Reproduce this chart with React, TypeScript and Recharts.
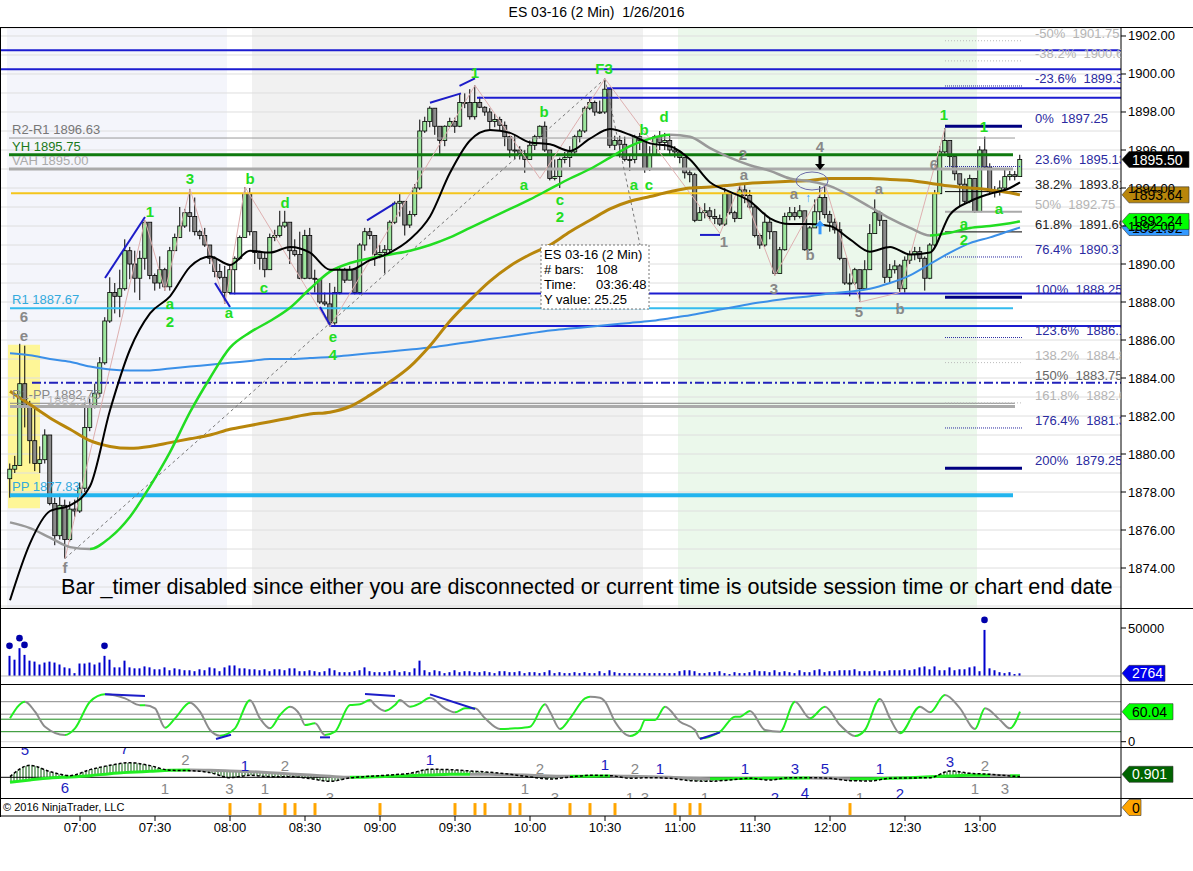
import React from "react";
import {
  ComposedChart, Bar, Line, Area, XAxis, YAxis, CartesianGrid,
  ReferenceLine, ReferenceArea, ReferenceDot,
} from "recharts";

const FONT = "'Liberation Sans', Arial, sans-serif";

// first bar is 06:32, 2-minute bars
const SESSION_START = 6 * 60 + 32;
const X_DOMAIN: [number, number] = [-1.8, 222.2];
const W = 1192;
const AXIS_W = 72;

const firstOpen = 1878.7;
const closes = [
  1879.2, 1879.4, 1883.7, 1882.5, 1880.7, 1879.5, 1879.7, 1881.0, 1877.4, 1875.7,
  1877.3, 1875.5, 1877.1, 1877.0, 1878.2, 1881.4, 1882.5, 1883.2, 1884.8, 1887.0,
  1888.5, 1888.3, 1888.7, 1890.7, 1890.0, 1889.25, 1890.3, 1892.2, 1889.4, 1889.0,
  1889.7, 1888.8, 1890.7, 1891.4, 1892.0, 1892.7, 1892.5, 1891.7, 1891.5, 1891.0,
  1890.3, 1889.6, 1889.3, 1888.5, 1889.7, 1890.3, 1891.4, 1893.7, 1891.7, 1890.6,
  1890.3, 1889.7, 1891.4, 1891.5, 1892.0, 1892.2, 1890.7, 1890.5, 1889.25, 1891.5,
  1889.25, 1889.2, 1888.0, 1887.9, 1886.9, 1888.5, 1889.7, 1889.15, 1889.7, 1888.5,
  1891.0, 1891.7, 1891.5, 1890.5, 1890.6, 1890.75, 1892.2, 1893.2, 1893.3, 1892.05,
  1892.6, 1894.0, 1897.0, 1897.5, 1898.2, 1897.25, 1896.5, 1897.25, 1897.5, 1897.25,
  1898.5, 1898.5, 1897.75, 1898.5, 1898.25, 1898.0, 1897.5, 1897.6, 1897.3, 1896.7,
  1896.0, 1896.0, 1895.8, 1895.5, 1896.25, 1896.7, 1897.25, 1896.0, 1894.5, 1894.6,
  1895.5, 1895.6, 1895.9, 1896.7, 1897.0, 1898.2, 1898.5, 1898.0, 1898.0, 1899.2,
  1896.25, 1896.5, 1896.3, 1895.5, 1895.5, 1896.7, 1896.5, 1895.0, 1895.75, 1896.7,
  1896.4, 1896.5, 1896.0, 1895.9, 1895.6, 1894.8, 1894.7, 1892.3, 1892.7, 1892.8,
  1892.5, 1892.4, 1892.1, 1893.7, 1892.7, 1892.4, 1893.9, 1893.6, 1893.0, 1891.5,
  1891.0, 1892.2, 1891.7, 1889.5, 1890.75, 1892.5, 1892.7, 1892.5, 1892.8, 1890.75,
  1891.9, 1892.75, 1893.5, 1892.6, 1892.2, 1891.8, 1890.3, 1889.0, 1889.0, 1889.7,
  1888.7, 1889.7, 1891.6, 1892.7, 1892.3, 1889.3, 1889.7, 1889.9, 1888.7, 1890.2,
  1890.5, 1890.65, 1890.3, 1889.25, 1891.0, 1893.7, 1895.9, 1896.5, 1895.65, 1894.75,
  1894.2, 1893.3, 1894.5, 1892.75, 1896.0, 1895.1, 1893.8, 1893.8, 1894.0, 1894.6,
  1894.7, 1894.6, 1895.5,
];
const highs = [
  1879.5, 1879.9, 1885.8, 1885.7, 1882.8, 1882.5, 1880.4, 1881.3, 1881.0, 1877.7,
  1877.9, 1877.6, 1877.5, 1877.6, 1878.5, 1882.7, 1882.9, 1883.7, 1885.1, 1887.2,
  1889.3, 1889.0, 1889.7, 1891.3, 1890.9, 1890.7, 1890.7, 1892.3, 1892.2, 1889.5,
  1890.4, 1889.8, 1890.9, 1891.6, 1893.0, 1892.9, 1893.95, 1893.5, 1891.8, 1891.9,
  1890.8, 1890.4, 1890.0, 1889.9, 1889.9, 1890.4, 1891.5, 1894.05, 1894.0, 1891.6,
  1890.7, 1890.6, 1891.6, 1891.8, 1892.8, 1892.8, 1892.0, 1891.3, 1891.7, 1891.8,
  1891.9, 1889.7, 1889.2, 1888.5, 1889.0, 1888.8, 1889.8, 1889.8, 1889.9, 1889.7,
  1891.1, 1891.9, 1891.9, 1891.5, 1891.0, 1891.0, 1892.3, 1893.3, 1893.7, 1893.3,
  1892.8, 1894.2, 1897.6, 1897.75, 1898.3, 1898.2, 1897.25, 1897.3, 1897.7, 1897.7,
  1899.0, 1898.98, 1899.2, 1899.4, 1898.8, 1898.3, 1898.2, 1897.9, 1897.75, 1897.5,
  1896.75, 1896.8, 1896.2, 1896.0, 1896.5, 1896.8, 1897.3, 1897.5, 1896.0, 1895.5,
  1895.6, 1895.9, 1896.2, 1896.8, 1897.1, 1898.3, 1898.7, 1898.6, 1898.6, 1899.75,
  1899.25, 1896.75, 1896.75, 1896.7, 1895.75, 1896.8, 1896.9, 1896.5, 1896.2, 1896.8,
  1897.0, 1896.9, 1896.8, 1896.2, 1896.0, 1895.6, 1895.0, 1894.8, 1893.0, 1893.2,
  1893.0, 1892.9, 1892.6, 1894.0, 1893.6, 1892.8, 1894.2, 1894.2, 1893.9, 1893.1,
  1891.6, 1892.7, 1892.4, 1891.4, 1890.9, 1892.7, 1893.0, 1893.0, 1893.1, 1892.5,
  1892.0, 1893.4, 1894.1, 1894.2, 1892.8, 1892.4, 1892.2, 1890.0, 1889.5, 1889.8,
  1889.7, 1890.2, 1892.1, 1893.4, 1892.8, 1892.1, 1890.0, 1890.2, 1890.0, 1890.4,
  1890.7, 1890.9, 1890.9, 1890.4, 1891.1, 1893.9, 1896.2, 1897.15, 1896.35, 1895.2,
  1894.7, 1894.5, 1894.7, 1894.4, 1896.2, 1896.7, 1895.3, 1894.1, 1894.4, 1894.95,
  1894.9, 1894.9, 1895.75,
];
const lows = [
  1877.7, 1879.0, 1879.4, 1881.4, 1879.5, 1879.1, 1879.0, 1879.5, 1877.3, 1875.2,
  1875.5, 1874.5, 1875.4, 1876.7, 1876.9, 1878.0, 1881.2, 1882.4, 1883.0, 1884.7,
  1886.9, 1887.4, 1887.2, 1888.6, 1889.2, 1888.5, 1888.1, 1889.7, 1889.2, 1888.6,
  1888.7, 1888.6, 1888.6, 1890.7, 1891.4, 1891.9, 1891.7, 1891.5, 1891.3, 1890.9,
  1890.0, 1889.3, 1889.2, 1887.9, 1888.4, 1888.4, 1890.2, 1891.4, 1891.5, 1890.0,
  1889.7, 1889.3, 1889.7, 1891.2, 1891.4, 1891.9, 1890.0, 1890.4, 1889.2, 1889.2,
  1889.2, 1888.5, 1887.9, 1887.8, 1886.7, 1886.8, 1888.4, 1889.0, 1889.2, 1888.4,
  1888.4, 1890.7, 1891.3, 1889.9, 1890.3, 1889.5, 1890.6, 1892.1, 1892.5, 1891.5,
  1891.9, 1892.5, 1893.9, 1896.9, 1897.2, 1896.8, 1895.7, 1896.2, 1897.2, 1896.9,
  1897.2, 1898.2, 1897.6, 1897.6, 1898.2, 1897.8, 1897.1, 1897.2, 1897.0, 1896.2,
  1895.6, 1895.5, 1895.5, 1894.8, 1895.5, 1896.0, 1896.6, 1895.9, 1894.4, 1894.4,
  1894.0, 1895.3, 1895.1, 1895.8, 1896.4, 1896.9, 1898.1, 1897.8, 1897.9, 1897.9,
  1896.1, 1896.0, 1895.6, 1895.4, 1894.9, 1895.3, 1896.0, 1894.8, 1894.9, 1895.7,
  1896.0, 1896.0, 1895.7, 1895.6, 1895.3, 1894.5, 1894.3, 1892.2, 1892.3, 1892.4,
  1892.3, 1892.1, 1892.0, 1892.0, 1892.6, 1892.2, 1892.4, 1893.2, 1892.9, 1891.4,
  1890.8, 1890.9, 1891.3, 1889.4, 1889.5, 1890.7, 1892.3, 1892.3, 1892.4, 1890.7,
  1890.7, 1892.1, 1892.3, 1892.4, 1891.7, 1891.6, 1890.2, 1888.9, 1888.3, 1888.9,
  1888.0, 1888.7, 1889.7, 1891.6, 1892.0, 1889.0, 1889.0, 1889.5, 1888.5, 1888.5,
  1890.0, 1890.2, 1890.1, 1888.6, 1889.2, 1890.9, 1893.7, 1895.8, 1895.1, 1894.4,
  1893.0, 1893.2, 1893.2, 1892.7, 1892.8, 1895.0, 1893.7, 1893.5, 1893.6, 1893.9,
  1894.4, 1894.4, 1894.6,
];
const volumes = [
  21000, 17000, 29000, 22000, 16000, 15000, 12000, 14000, 15000, 14000,
  12000, 9000, 8000, 3000, 13000, 13000, 14000, 12000, 14000, 21000,
  17000, 9000, 9000, 16000, 9000, 8000, 8000, 10000, 9000, 7000,
  7000, 9000, 6000, 8000, 7000, 6000, 6000, 5000, 7000, 6000,
  9000, 8000, 5000, 9000, 11000, 11000, 8000, 8000, 7000, 7000,
  6000, 7000, 5000, 7000, 7000, 6000, 8000, 8000, 5000, 5000,
  6000, 5000, 4000, 5000, 8000, 6000, 4000, 4000, 4000, 5000,
  6000, 9000, 5000, 4000, 4000, 4000, 5000, 6000, 4000, 5000,
  4000, 8000, 16000, 6000, 4000, 6000, 5000, 3000, 4000, 6000,
  4000, 5000, 5000, 4000, 4000, 5000, 4000, 3000, 5000, 5000,
  4000, 4000, 5000, 3000, 4000, 4000, 3000, 4000, 6000, 3000,
  4000, 3000, 3000, 4000, 3000, 4000, 3000, 3000, 5000, 3000,
  6000, 4000, 3000, 3000, 3000, 3000, 3000, 3000, 3000, 3000,
  3000, 3000, 3000, 3000, 5000, 6000, 6000, 5000, 3000, 3000,
  4000, 4000, 5000, 3000, 2000, 4000, 3000, 3000, 4000, 6000,
  5000, 5000, 4000, 6000, 4000, 5000, 4000, 3000, 6000, 4000,
  4000, 6000, 7000, 4000, 5000, 5000, 6000, 6000, 6000, 7000,
  5000, 5000, 5000, 6000, 5000, 5000, 6000, 6000, 6000, 7000,
  6000, 7000, 9000, 10000, 7000, 10000, 6000, 6000, 9000, 6000,
  7000, 7000, 9000, 10000, 5000, 48000, 8000, 6000, 4000, 3000,
  4000, 2000, 2764,
];
const volumeDots = [0, 2, 3, 19, 195];

// moving averages sampled every 4 bars (last sample = last bar)
const fastMA = [
  1872.3, 1875.3, 1877.0, 1877.3, 1878.3, 1882.3, 1885.5, 1887.4, 1888.3, 1889.85,
  1890.4, 1889.95, 1890.7, 1890.6, 1890.9, 1890.6, 1889.7, 1889.7, 1890.2, 1890.6,
  1891.3, 1892.5, 1894.8, 1896.5, 1897.05, 1896.9, 1896.4, 1896.3, 1895.95, 1896.6,
  1897.1, 1896.8, 1896.35, 1896.2, 1895.5, 1894.3, 1893.8, 1893.3, 1892.4, 1892.1,
  1892.1, 1892.0, 1891.3, 1890.65, 1890.9, 1890.5, 1890.6, 1892.6, 1893.3, 1893.7,
  1894.0, 1894.3,
];
const midMA = [
  1876.4, 1876.1, 1875.6, 1875.1, 1875.0, 1875.6, 1876.7, 1878.3, 1880.1, 1882.2,
  1884.0, 1885.6, 1886.4, 1887.0, 1887.7, 1888.7, 1889.6, 1890.05, 1890.3, 1890.5,
  1890.7, 1891.0, 1891.4, 1891.9, 1892.4, 1892.9, 1893.4, 1893.95, 1894.5, 1895.0,
  1895.6, 1896.2, 1896.6, 1896.8, 1896.7, 1896.1, 1895.6, 1895.2, 1894.9, 1894.5,
  1894.35, 1894.1, 1893.6, 1893.0, 1892.4, 1891.9, 1891.5, 1891.65, 1891.9, 1892.0,
  1892.15, 1892.24,
];
const slowMA = [
  1883.3, 1882.6, 1881.9, 1881.3, 1880.7, 1880.4, 1880.3, 1880.4, 1880.6, 1880.8,
  1881.0, 1881.3, 1881.5, 1881.7, 1881.9, 1882.1, 1882.2, 1882.5, 1883.1, 1883.8,
  1884.6, 1885.7, 1887.0, 1888.1, 1889.1, 1889.9, 1890.5, 1891.0, 1891.7, 1892.3,
  1892.9, 1893.3, 1893.55, 1893.8, 1894.0, 1894.05, 1894.15, 1894.25, 1894.3, 1894.35,
  1894.4, 1894.5, 1894.5, 1894.5, 1894.45, 1894.4, 1894.25, 1894.1, 1894.0, 1893.9,
  1893.75, 1893.64,
];
const blueMA = [
  1885.3, 1885.2, 1885.0, 1884.85, 1884.6, 1884.45, 1884.4, 1884.4, 1884.5, 1884.6,
  1884.7, 1884.8, 1884.9, 1885.0, 1885.0, 1885.05, 1885.1, 1885.2, 1885.3, 1885.4,
  1885.5, 1885.6, 1885.75, 1885.9, 1886.05, 1886.2, 1886.35, 1886.5, 1886.6, 1886.7,
  1886.8, 1886.9, 1887.0, 1887.15, 1887.3, 1887.5, 1887.7, 1887.9, 1888.05, 1888.2,
  1888.3, 1888.45, 1888.55, 1888.7, 1889.0, 1889.4, 1890.0, 1890.6, 1891.1, 1891.4,
  1891.75, 1891.92,
];
const macdVals = [
  0.2, 3.6, 1.7, 0.5, 2.3, 3.6, 4.4, 3.5, 2.1, 2.0,
  1.4, -0.1, 0.6, 0.2, 0.2, -0.4, -1.2, -0.2, 0.3, 0.7,
  1.2, 2.4, 2.3, 1.9, 1.5, 0.9, 0.1, -0.5, 0.1, 0.6,
  0.5, -0.3, -0.1, -0.3, -1.0, -1.2, -0.8, -0.3, -0.8, -0.1,
  -0.1, -0.3, -1.0, -1.1, -0.3, -0.2, -0.1, 1.9, 1.2, 0.9,
  0.4, 0.2,
];
const signalVals = [
  -1.5, -0.8, -0.2, 0.1, 0.5, 1.1, 1.5, 1.8, 2.1, 2.2,
  2.1, 1.9, 1.7, 1.4, 1.0, 0.7, 0.3, 0.0, 0.1, 0.3,
  0.5, 0.7, 0.9, 0.95, 0.9, 0.8, 0.6, 0.4, 0.3, 0.35,
  0.4, 0.3, 0.2, 0.0, -0.3, -0.4, -0.4, -0.35, -0.3, -0.25,
  -0.2, -0.3, -0.4, -0.4, -0.3, -0.1, 0.2, 0.4, 0.6, 0.6,
  0.5, 0.5,
];
const sampleBars = Array.from({ length: 51 }, (_, k) => k * 4).concat(202);

const oscBars = [
  0, 3, 5, 7, 11, 13, 16, 19, 23, 26, 27, 29, 31, 33, 36, 38, 40, 42, 45, 48,
  50, 52, 54, 56, 58, 59, 61, 63, 65, 68, 70, 72, 73, 75, 77, 78, 80, 82, 84, 87,
  89, 91, 93, 95, 98, 101, 104, 107, 108, 110, 112, 115, 116, 118, 119, 121, 124, 126, 127, 129,
  131, 134, 137, 138, 142, 145, 146, 148, 151, 154, 157, 160, 163, 166, 169, 171, 174, 176, 178, 182,
  184, 187, 190, 193, 195, 198, 200, 202,
];
const oscVals = [
  46.7, 80, 60, 30, 13.4, 26.7, 80, 94.7, 86.7, 73, 73, 66.7, 28, 46.7, 78, 60, 23.4, 12, 26.7, 83,
  46.7, 26.7, 53.4, 70, 53.4, 33.4, 36.7, 13.4, 20, 73.4, 74.7, 83.4, 73.4, 61.4, 73.4, 83.4, 70, 76.7, 88, 66.7,
  58.7, 66.7, 66.7, 46.7, 25.4, 26.7, 30, 74.7, 60, 25.4, 46.7, 86.7, 90, 88, 80, 40, 11.4, 23.4, 43.4, 43.4,
  70, 40, 23.4, 6.7, 20, 50, 50, 61.4, 23.4, 20, 80, 46.7, 70, 33.4, 11.4, 23.4, 85.4, 46.7, 16.7, 70,
  58.7, 93.4, 66.7, 25.4, 66.7, 43.4, 26.7, 60.04,
];
const oscLevels = [80, 55, 45, 20];

const alertBars = [44, 50, 55, 57, 61, 74, 89, 93, 95, 100, 102, 112, 116, 121, 133, 136, 138, 168];

const timeLabels = ["07:00", "07:30", "08:00", "08:30", "09:00", "09:30", "10:00", "10:30", "11:00", "11:30", "12:00", "12:30", "13:00"];

// swing zigzag and measure line
const zigBars = [11, 27, 31, 36, 43, 47, 64, 93, 106, 119, 142, 146, 153, 163, 170, 178, 187];
const zigPrices = [1874.5, 1892.3, 1888.6, 1893.95, 1887.9, 1894.05, 1886.7, 1899.4, 1894.5, 1899.75, 1891.6, 1894.2, 1889.4, 1894.2, 1888.0, 1888.5, 1897.15];

// price levels
const pivotNames = ["R2-R1 1896.63", "YH 1895.75", "VAH 1895.00", "R1 1887.67", "R1-PP 1882.75", "PP 1877.83"];
const pivotPrices = [1896.63, 1895.75, 1895.0, 1887.67, 1882.67, 1877.83];
const blueLevels: [number, number, number][] = [
  [-1.8, 222.2, 1901.25], [-1.8, 222.2, 1900.25], [119.4, 222.2, 1899.25],
  [93.4, 222.2, 1898.75], [44, 222.2, 1888.45], [64, 222.2, 1886.74],
];
const trendSegs: [number, number, number, number][] = [
  [19, 1889.26, 27, 1892.47], [41, 1889.0, 44, 1887.74], [62, 1887.74, 64, 1886.79],
  [71.4, 1892.3, 77, 1893.2], [84, 1898.49, 90.2, 1898.98], [89.9, 1899.38, 93, 1899.77],
  [138, 1891.53, 142, 1891.53],
];
const oscSegs: [number, number, number, number][] = [
  [19, 94.7, 27, 91.4], [41.2, 5.4, 44.2, 14], [62, 8.7, 64, 8.7],
  [71, 95.4, 77, 91.4], [84, 94.7, 93, 65.4], [138, 5.4, 142, 18.7],
];

const fibPct = ["-50%", "-38.2%", "-23.6%", "0%", "23.6%", "38.2%", "50%", "61.8%", "76.4%", "100%", "123.6%", "138.2%", "150%", "161.8%", "176.4%", "200%"];
const fibPrice = [1901.75, 1900.69, 1899.37, 1897.25, 1895.13, 1893.81, 1892.75, 1891.69, 1890.37, 1888.25, 1886.13, 1884.81, 1883.75, 1882.69, 1881.37, 1879.25];
const fibTone = ["faint", "faint", "blue", "key", "blue", "black", "gray", "black", "blue", "key", "blue", "faint", "mid", "faint", "blue", "key"];

const greenLabels: [number, number, string][] = [
  [28, 1892.75, "1"], [36, 1894.5, "3"], [48, 1894.5, "b"], [55, 1893.2, "d"],
  [32, 1887.93, "a"], [32, 1886.96, "2"], [43.8, 1887.42, "a"], [50.8, 1888.74, "c"],
  [64.6, 1886.16, "e"], [64.6, 1885.2, "4"], [93, 1900.07, "1"], [118.8, 1900.3, "F3"],
  [106.8, 1898.0, "b"], [102.8, 1894.16, "a"], [110, 1893.4, "c"], [110, 1892.49, "2"],
  [126.8, 1897.05, "b"], [130.8, 1897.75, "d"], [124.8, 1894.16, "a"], [127.8, 1894.16, "c"],
  [186.8, 1897.84, "1"], [194.8, 1897.23, "1"], [197.8, 1892.93, "a"], [190.8, 1892.14, "a"],
  [190.8, 1891.26, "2"],
];
const grayLabels: [number, number, string][] = [
  [146.6, 1895.74, "2"], [146.8, 1894.68, "a"], [156.8, 1893.7, "a"], [162, 1896.17, "4"],
  [142.8, 1891.17, "1"], [152.8, 1888.72, "3"], [160, 1890.47, "b"], [173.8, 1893.98, "a"],
  [169.8, 1887.49, "5"], [178, 1887.67, "b"], [184.8, 1895.2, "6"], [2.8, 1887.2, "6"],
  [2.8, 1886.2, "e"], [11, 1874.0, "f"],
];
const macdBlueLabels: [number, number, string][] = [
  [3, 8.4, "5"], [22.9, 8.6, "7"], [11, -3.1, "6"], [47, 3.5, "1"], [84, 5.2, "1"],
  [119, 3.7, "1"], [130, 2.7, "1"], [147, 2.7, "1"], [157, 2.7, "3"], [163, 2.7, "5"],
  [174, 2.7, "1"], [153, -6.2, "2"], [159, -4.5, "4"], [178, -5.0, "2"], [188, 4.7, "3"],
];
const macdGrayLabels: [number, number, string][] = [
  [35.1, 5.2, "2"], [31, -3.3, "1"], [43.9, -3.3, "3"], [55, 3.4, "2"], [51, -3.3, "1"],
  [64, -6.0, "3"], [106, 2.7, "2"], [103, -3.3, "1"], [109, -6.0, "3"], [125, 2.7, "2"],
  [124, -6.0, "1"], [127, -6.0, "3"], [139, -6.2, "1"], [170, -6.2, "1"], [195, 3.5, "2"],
  [193, -3.3, "1"], [199, -3.3, "3"],
];

// ---------- table built from the arrays ----------
const rows: any[] = closes.map((c, i) => {
  const o = i === 0 ? firstOpen : closes[i - 1];
  const h = Math.max(highs[i], o, c);
  const l = Math.min(lows[i], o, c);
  return { i, o, h, l, c, range: [l, h], vol: volumes[i], dot: volumeDots.includes(i) };
});
sampleBars.forEach((b, k) => {
  Object.assign(rows[b], {
    fast: fastMA[k], mid: midMA[k], slow: slowMA[k], blue: blueMA[k],
    macd: macdVals[k], sig: signalVals[k], hist: [signalVals[k], macdVals[k]],
  });
});
oscBars.forEach((b, k) => { rows[b].osc = oscVals[k]; });
zigBars.forEach((b, k) => { rows[b].zig = zigPrices[k]; });
alertBars.forEach((b) => { rows[b].alert = [0.06, 0.76]; });

const timeTicks = timeLabels.map((t) => {
  const [h, m] = t.split(":").map(Number);
  return (h * 60 + m - SESSION_START) / 2;
});
const priceTicks = Array.from({ length: 31 }, (_, k) => 1872 + k);

function slopeStops(bars: number[], vals: number[], up: string, down: string) {
  const span = bars[bars.length - 1] - bars[0];
  const out: React.ReactNode[] = [];
  for (let k = 0; k < vals.length - 1; k++) {
    const col = vals[k + 1] >= vals[k] ? up : down;
    out.push(<stop key={k + "a"} offset={(bars[k] - bars[0]) / span} stopColor={col} />);
    out.push(<stop key={k + "b"} offset={(bars[k + 1] - bars[0]) / span} stopColor={col} />);
  }
  return out;
}

// ---------- shapes ----------
const Candle = (p: any) => {
  const { x, width, payload } = p;
  const top = Math.min(p.y, p.y + p.height);
  const hgt = Math.abs(p.height);
  const { o, h, l, c } = payload;
  const span = h - l || 1;
  const py = (v: number) => top + ((h - v) / span) * hgt;
  const cx = x + width / 2;
  const b1 = py(Math.max(o, c));
  const b2 = py(Math.min(o, c));
  return (
    <g>
      <line x1={cx} x2={cx} y1={top} y2={top + hgt} stroke="#000" strokeWidth={1} />
      <rect x={cx - 2} y={b1} width={4} height={Math.max(b2 - b1, 1)}
        fill={c >= o ? "#9ee79e" : "#8a8a8a"} stroke="#000" strokeWidth={0.8} />
    </g>
  );
};

const VolBar = (p: any) => (
  <g>
    <rect x={p.x} y={p.y} width={p.width} height={Math.max(p.height, 0)} fill="#0000cc" />
    {p.payload.dot && <circle cx={p.x + p.width / 2} cy={p.y - 10} r={3.3} fill="#0000aa" />}
  </g>
);

const txt = (label: string, color: string, size: number, weight: any = "normal", anchor = "middle", dy?: number, clip?: string) =>
  (p: any) => (
    <text x={p.cx} y={p.cy} dy={dy ?? size * 0.35} fill={color} fontSize={size} fontWeight={weight}
      fontFamily={FONT} textAnchor={anchor} clipPath={clip}>{label}</text>
  );

const tag = (label: string, bg: string, fg: string) => (p: any) => {
  const w = label.length * 8 + 4;
  const { cx, cy } = p;
  return (
    <g>
      <polygon points={`${cx + 1},${cy} ${cx + 8},${cy - 8} ${cx + 8 + w},${cy - 8} ${cx + 8 + w},${cy + 8} ${cx + 8},${cy + 8}`}
        fill={bg} stroke="#333" strokeWidth={0.6} />
      <text x={cx + 11} y={cy + 5} fontSize={14} fill={fg} fontFamily={FONT}>{label}</text>
    </g>
  );
};

const axisTick = (show: (v: number) => boolean, fmt: (v: number) => string) => (p: any) => {
  const v = p.payload.value;
  if (!show(v)) return <g />;
  return (
    <g>
      <line x1={p.x} x2={p.x + 5} y1={p.y} y2={p.y} stroke="#000" />
      <text x={p.x + 7} y={p.y + 4.5} fontSize={13} fill="#000" fontFamily={FONT}>{fmt(v)}</text>
    </g>
  );
};

const TooltipBox = (p: any) => (
  <g fontFamily={FONT} fontSize={13} fill="#000">
    <rect x={p.cx} y={p.cy} width={108} height={64} fill="#fff" stroke="#777" strokeDasharray="2 2" />
    <text x={p.cx + 3} y={p.cy + 14}>ES 03-16 (2 Min)</text>
    <text x={p.cx + 3} y={p.cy + 29}># bars:</text>
    <text x={p.cx + 55} y={p.cy + 29}>108</text>
    <text x={p.cx + 3} y={p.cy + 44}>Time:</text>
    <text x={p.cx + 55} y={p.cy + 44}>03:36:48</text>
    <text x={p.cx + 3} y={p.cy + 59}>Y value: 25.25</text>
  </g>
);

const DownArrow = (p: any) => (
  <g>
    <line x1={p.cx} x2={p.cx} y1={p.cy - 14} y2={p.cy - 5} stroke="#000" strokeWidth={3} />
    <polygon points={`${p.cx - 5},${p.cy - 6} ${p.cx + 5},${p.cy - 6} ${p.cx},${p.cy}`} fill="#000" />
  </g>
);
const UpArrow = (p: any) => (
  <g>
    <line x1={p.cx} x2={p.cx} y1={p.cy + 14} y2={p.cy + 5} stroke="#3399ff" strokeWidth={3} />
    <polygon points={`${p.cx - 5},${p.cy + 6} ${p.cx + 5},${p.cy + 6} ${p.cx},${p.cy}`} fill="#3399ff" />
  </g>
);
const Ellipse = (p: any) => <ellipse cx={p.cx} cy={p.cy} rx={16} ry={9} fill="none" stroke="#6a6aa8" strokeWidth={1} />;

const pivotStyle: Record<string, { stroke: string; w: number; color: string; from: number; to: number }> = {
  "R2-R1 1896.63": { stroke: "#999", w: 1, color: "#777", from: -0.2, to: 201 },
  "YH 1895.75": { stroke: "#0f7a0f", w: 3, color: "#1a7a1a", from: -0.2, to: 200.6 },
  "VAH 1895.00": { stroke: "#aaa", w: 3, color: "#aaa", from: -0.2, to: 200.6 },
  "R1 1887.67": { stroke: "#33bbee", w: 2, color: "#33aadd", from: 0, to: 200.6 },
  "R1-PP 1882.75": { stroke: "#888", w: 1, color: "#888", from: 0, to: 201 },
  "PP 1877.83": { stroke: "#22b4ee", w: 4, color: "#33aadd", from: 0, to: 200.6 },
};
const fibStyle: Record<string, { stroke: string; w: number; dash?: string; color: string }> = {
  faint: { stroke: "#bbb", w: 1, dash: "1 2", color: "#b4b4b4" },
  blue: { stroke: "#2a2aa0", w: 1, dash: "1 1", color: "#2a2aa0" },
  key: { stroke: "#000080", w: 3, color: "#2a2aa0" },
  black: { stroke: "#000", w: 1, color: "#222" },
  gray: { stroke: "#aaa", w: 2, color: "#b4b4b4" },
  mid: { stroke: "none", w: 0, color: "#666" },
};

const xAxisHidden = <XAxis type="number" dataKey="i" domain={X_DOMAIN} hide allowDataOverflow />;
const margin = { top: 0, right: 0, bottom: 0, left: 0 };
const PRICE_DOMAIN: [number, number] = [1871.895, 1902.421];
const PRICE_H = 580;

function PricePanel() {
  return (
    <>
      <div style={{ position: "absolute", left: 1, top: 28 }}>
        <ComposedChart width={W} height={PRICE_H} data={rows} margin={margin}>
          {xAxisHidden}
          <YAxis orientation="right" width={AXIS_W} domain={PRICE_DOMAIN} allowDataOverflow tick={false} axisLine={false} />
          <ReferenceArea x1={-0.6} x2={43.4} fill="#f4f5fb" fillOpacity={1} stroke="none" />
          <ReferenceArea x1={48.4} x2={126.6} fill="#f1f1f1" fillOpacity={1} stroke="none" />
          <ReferenceArea x1={133.6} x2={193.4} fill="#ebf8eb" fillOpacity={1} stroke="none" />
          <ReferenceArea x1={-0.4} x2={6} y1={1877.15} y2={1885.75} fill="#fff68c" fillOpacity={0.9} stroke="none" />
        </ComposedChart>
      </div>
      <div style={{ position: "absolute", left: 1, top: 28 }}>
        <ComposedChart width={W} height={PRICE_H} data={rows} margin={margin}>
          <defs>
            <linearGradient id="gMid" x1="0" y1="0" x2="1" y2="0">
              {slopeStops(sampleBars, midMA, "#22dd22", "#999")}
            </linearGradient>
            <clipPath id="plotClip">
              <rect x={0} y={0} width={W - AXIS_W} height={PRICE_H} />
            </clipPath>
          </defs>
          {xAxisHidden}
          <YAxis orientation="right" width={AXIS_W} domain={PRICE_DOMAIN} allowDataOverflow ticks={priceTicks}
            interval={0} tickSize={0} tickMargin={0} tickLine={false} axisLine={{ stroke: "#000" }}
            tick={axisTick((v) => Math.round(v) % 2 === 0 && v >= 1874, (v) => v.toFixed(2))} />
          <CartesianGrid vertical={false} stroke="#dedede" />

          {blueLevels.map(([a, b, p], k) => (
            <ReferenceLine key={"bl" + k} segment={[{ x: a, y: p }, { x: b, y: p }]} stroke="#1c1cd0" strokeWidth={2} ifOverflow="visible" />
          ))}
          <ReferenceLine segment={[{ x: 4.4, y: 1883.75 }, { x: 222.2, y: 1883.75 }]} stroke="#2222bb" strokeWidth={2} strokeDasharray="9 3 2 3" />
          <ReferenceLine segment={[{ x: 0.2, y: 1893.72 }, { x: 186, y: 1893.72 }]} stroke="#f4c51c" strokeWidth={2} />
          <ReferenceLine segment={[{ x: 0, y: 1882.5 }, { x: 201, y: 1882.5 }]} stroke="#aaa" strokeWidth={3} />
          {pivotNames.map((n, k) => (
            <ReferenceLine key={"pv" + k} segment={[{ x: pivotStyle[n].from, y: pivotPrices[k] }, { x: pivotStyle[n].to, y: pivotPrices[k] }]}
              stroke={pivotStyle[n].stroke} strokeWidth={pivotStyle[n].w} />
          ))}
          {pivotNames.map((n, k) => (
            <ReferenceDot key={"pvt" + k} x={0.4} y={pivotPrices[k]} r={0}
              shape={txt(n, pivotStyle[n].color, 13, "normal", "start", -4)} />
          ))}
          <ReferenceDot x={7.4} y={1882.5} r={0} shape={txt("1882.50", "#bbb", 13, "normal", "start", -2)} />

          {fibPrice.map((p, k) => {
            const s = fibStyle[fibTone[k]];
            return s.w > 0 ? (
              <ReferenceLine key={"fl" + k} segment={[{ x: 187, y: p }, { x: 202.4, y: p }]}
                stroke={s.stroke} strokeWidth={s.w} strokeDasharray={s.dash} />
            ) : null;
          })}

          <ReferenceLine segment={[{ x: 11, y: 1874.5 }, { x: 119, y: 1899.75 }]} stroke="#777" strokeDasharray="3 3" />
          <ReferenceLine segment={[{ x: 119, y: 1899.75 }, { x: 126, y: 1891.0 }]} stroke="#777" strokeDasharray="3 3" />

          <Line dataKey="zig" type="linear" connectNulls stroke="#deb0b0" strokeWidth={1} dot={false} activeDot={false} isAnimationActive={false} />
          <Bar dataKey="range" barSize={5} shape={Candle} isAnimationActive={false} />
          <Line dataKey="blue" type="monotone" connectNulls stroke="#3a8fe8" strokeWidth={2} dot={false} activeDot={false} isAnimationActive={false} />
          <Line dataKey="slow" type="monotone" connectNulls stroke="#b8860b" strokeWidth={3} dot={false} activeDot={false} isAnimationActive={false} />
          <Line dataKey="mid" type="monotone" connectNulls stroke="url(#gMid)" strokeWidth={2.5} dot={false} activeDot={false} isAnimationActive={false} />
          <Line dataKey="fast" type="monotone" connectNulls stroke="#000" strokeWidth={2} dot={false} activeDot={false} isAnimationActive={false} />

          {trendSegs.map(([a, p1, b, p2], k) => (
            <ReferenceLine key={"ts" + k} segment={[{ x: a, y: p1 }, { x: b, y: p2 }]} stroke="#1c1cc8" strokeWidth={2} />
          ))}

          {greenLabels.map(([b, p, t], k) => (
            <ReferenceDot key={"gl" + k} x={b} y={p} r={0} shape={txt(t, "#22dd22", 15, "bold")} />
          ))}
          {grayLabels.map(([b, p, t], k) => (
            <ReferenceDot key={"yl" + k} x={b} y={p} r={0} shape={txt(t, "#888", 15, "bold")} />
          ))}
          {fibPct.map((pct, k) => (
            <ReferenceDot key={"ft" + k} x={205} y={fibPrice[k]} r={0}
              shape={txt(`${pct}\u00a0\u00a0${fibPrice[k].toFixed(2)}`, fibStyle[fibTone[k]].color, 13, "normal", "start", -3, "url(#plotClip)")} />
          ))}

          <ReferenceDot x={160.4} y={1894.37} r={0} shape={Ellipse} />
          <ReferenceDot x={162} y={1894.95} r={0} shape={DownArrow} />
          <ReferenceDot x={162} y={1892.3} r={0} shape={UpArrow} />
          <ReferenceDot x={159.6} y={1893.5} r={0} shape={txt("\u2191", "#3399ff", 12, "bold")} />
          <ReferenceDot x={106.2} y={1891.0} r={0} shape={TooltipBox} />

          <ReferenceDot x={222.2} y={1891.92} r={0} ifOverflow="visible" shape={tag("1891.92", "#3399ff", "#000")} />
          <ReferenceDot x={222.2} y={1892.24} r={0} ifOverflow="visible" shape={tag("1892.24", "#00ff00", "#000")} />
          <ReferenceDot x={222.2} y={1893.64} r={0} ifOverflow="visible" shape={tag("1893.64", "#b8860b", "#000")} />
          <ReferenceDot x={222.2} y={1895.5} r={0} ifOverflow="visible" shape={tag("1895.50", "#000", "#fff")} />
        </ComposedChart>
      </div>
    </>
  );
}

function LowerPanels() {
  return (
    <>
      <div style={{ position: "absolute", left: 1, top: 609 }}>
        <ComposedChart width={W} height={75} data={rows} margin={margin}>
          {xAxisHidden}
          <YAxis orientation="right" width={AXIS_W} domain={[-8333, 69792]} allowDataOverflow ticks={[50000]}
            interval={0} tickSize={0} tickMargin={0} tickLine={false} axisLine={{ stroke: "#000" }}
            tick={axisTick(() => true, (v) => String(v))} />
          <ReferenceLine y={0} stroke="#bbb" />
          <Bar dataKey="vol" barSize={2} shape={VolBar} isAnimationActive={false} />
          <ReferenceDot x={222.2} y={2764} r={0} ifOverflow="visible" shape={tag("2764", "#0000ee", "#fff")} />
        </ComposedChart>
      </div>
      <div style={{ position: "absolute", left: 1, top: 685 }}>
        <ComposedChart width={W} height={62} data={rows} margin={margin}>
          <defs>
            <linearGradient id="gOsc" x1="0" y1="0" x2="1" y2="0">
              {slopeStops(oscBars, oscVals, "#22ee22", "#8c8c8c")}
            </linearGradient>
          </defs>
          {xAxisHidden}
          <YAxis orientation="right" width={AXIS_W} domain={[-10.6, 113.4]} allowDataOverflow ticks={[0]}
            interval={0} tickSize={0} tickMargin={0} tickLine={false} axisLine={{ stroke: "#000" }}
            tick={axisTick(() => true, (v) => String(v))} />
          <ReferenceLine y={0} stroke="#d4d4d4" />
          {oscLevels.map((v, k) => (
            <ReferenceLine key={"ol" + k} y={v} stroke={v > 50 ? "#888" : "#1a8a1a"} strokeWidth={1} />
          ))}
          <Line dataKey="osc" type="monotone" connectNulls stroke="url(#gOsc)" strokeWidth={2} dot={false} activeDot={false} isAnimationActive={false} />
          {oscSegs.map(([a, v1, b, v2], k) => (
            <ReferenceLine key={"os" + k} segment={[{ x: a, y: v1 }, { x: b, y: v2 }]} stroke="#1c1cc8" strokeWidth={2} />
          ))}
          <ReferenceDot x={222.2} y={60.04} r={0} ifOverflow="visible" shape={tag("60.04", "#00ff00", "#000")} />
        </ComposedChart>
      </div>
      <div style={{ position: "absolute", left: 1, top: 748 }}>
        <ComposedChart width={W} height={50} data={rows} margin={margin}>
          <defs>
            <pattern id="hatch" patternUnits="userSpaceOnUse" width={3} height={6}>
              <line x1={1} y1={0} x2={1} y2={6} stroke="#0b5e0b" strokeWidth={1} />
            </pattern>
            <linearGradient id="gSig" x1="0" y1="0" x2="1" y2="0">
              {slopeStops(sampleBars, signalVals, "#22ee22", "#999")}
            </linearGradient>
          </defs>
          {xAxisHidden}
          <YAxis orientation="right" width={AXIS_W} domain={[-6.21, 8.79]} allowDataOverflow tick={false} axisLine={{ stroke: "#000" }} />
          <Area dataKey="hist" type="monotone" connectNulls stroke="none" fill="url(#hatch)" fillOpacity={1} isAnimationActive={false} activeDot={false} />
          <ReferenceLine y={0} stroke="#000" />
          <Line dataKey="sig" type="monotone" connectNulls stroke="url(#gSig)" strokeWidth={3} dot={false} activeDot={false} isAnimationActive={false} />
          <Line dataKey="macd" type="monotone" connectNulls stroke="#000" strokeWidth={1.5} strokeDasharray="3 2" dot={false} activeDot={false} isAnimationActive={false} />
          {macdBlueLabels.map(([b, v, t], k) => (
            <ReferenceDot key={"mb" + k} x={b} y={v} r={0} shape={txt(t, "#1c1cc0", 15)} />
          ))}
          {macdGrayLabels.map(([b, v, t], k) => (
            <ReferenceDot key={"mg" + k} x={b} y={v} r={0} shape={txt(t, "#888", 15)} />
          ))}
          <ReferenceDot x={222.2} y={0.901} r={0} ifOverflow="visible" shape={tag("0.901", "#006400", "#fff")} />
        </ComposedChart>
      </div>
      <div style={{ position: "absolute", left: 1, top: 799 }}>
        <ComposedChart width={W} height={52} data={rows} margin={margin}>
          <XAxis type="number" dataKey="i" domain={X_DOMAIN} allowDataOverflow ticks={timeTicks} interval={0}
            tickFormatter={(v) => timeLabels[timeTicks.indexOf(v)] ?? ""} height={35} tickSize={5}
            axisLine={{ stroke: "#000" }} tickLine={{ stroke: "#000" }}
            tick={{ fontSize: 13, fill: "#000", fontFamily: FONT }} />
          <YAxis orientation="right" width={AXIS_W} domain={[0, 1]} allowDataOverflow tick={false} axisLine={{ stroke: "#000" }} />
          <Bar dataKey="alert" barSize={3} fill="#ffa500" isAnimationActive={false} />
          <ReferenceDot x={222.2} y={0.5} r={0} ifOverflow="visible" shape={tag("0", "#ffa500", "#000")} />
        </ComposedChart>
      </div>
    </>
  );
}

const hLine = (top: number, width = 1193) => (
  <div style={{ position: "absolute", left: 0, top, width, height: 1, background: "#000" }} />
);

export default function App() {
  return (
    <div style={{ position: "absolute", left: 0, top: 0, width: 1193, height: 871, background: "#fff", overflow: "hidden", fontFamily: FONT }}>
      <div style={{ position: "absolute", left: 0, top: 4, width: 1193, textAlign: "center", fontSize: 14, color: "#000", whiteSpace: "pre" }}>
        {"ES 03-16 (2 Min)  1/26/2016"}
      </div>
      <PricePanel />
      <LowerPanels />
      <div style={{ position: "absolute", left: 61, top: 575, fontSize: 21.6, lineHeight: "24px", color: "#000", whiteSpace: "nowrap" }}>
        Bar _timer disabled since either you are disconnected or current time is outside session time or chart end date
      </div>
      <div style={{ position: "absolute", left: 3, top: 801, fontSize: 11, color: "#000", whiteSpace: "nowrap" }}>
        © 2016 NinjaTrader, LLC
      </div>
      {hLine(27)}
      {hLine(608)}
      {hLine(684)}
      {hLine(747)}
      {hLine(798)}
      <div style={{ position: "absolute", left: 0, top: 27, width: 1, height: 790, background: "#000" }} />
    </div>
  );
}
